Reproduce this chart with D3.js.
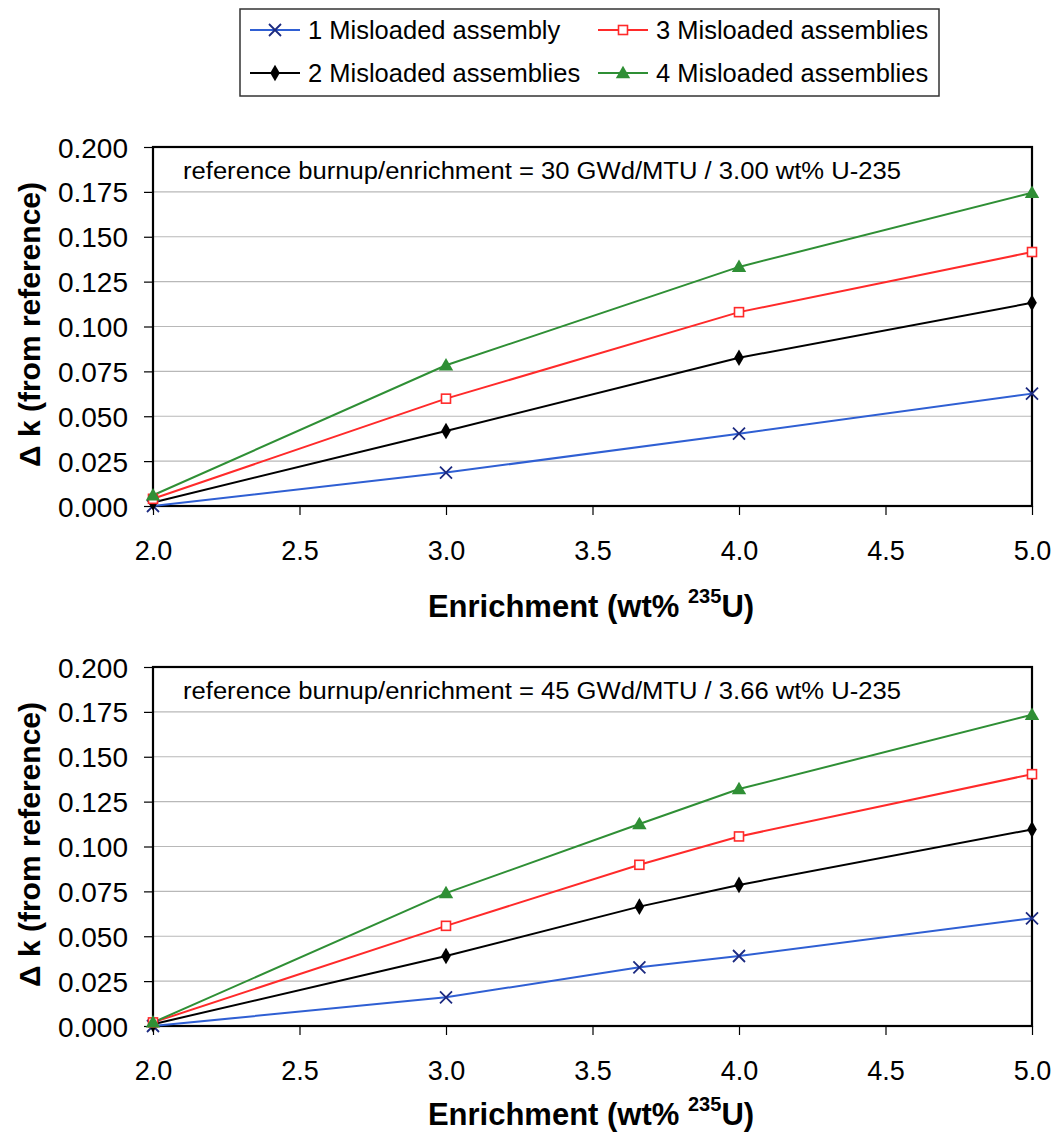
<!DOCTYPE html>
<html><head><meta charset="utf-8">
<script src="https://cdn.jsdelivr.net/npm/d3@7"></script>
<style>body{margin:0;background:#fff}svg{display:block}</style>
</head><body>
<svg id="c" width="1052" height="1140"></svg>
<script>
const seriesNames = ["1 Misloaded assembly","2 Misloaded assemblies","3 Misloaded assemblies","4 Misloaded assemblies"];
const xTicks = [2.0,2.5,3.0,3.5,4.0,4.5,5.0];
const yTicks = [0,0.025,0.05,0.075,0.1,0.125,0.15,0.175,0.2];

// Top panel
const topX = [2.0,3.0,4.0,5.0];
const top1 = [0.000,0.0186,0.0403,0.0626];
const top2 = [0.002,0.0418,0.0826,0.1132];
const top3 = [0.004,0.0598,0.1080,0.1415];
const top4 = [0.006,0.0784,0.1332,0.1745];
const topNote = "reference burnup/enrichment = 30 GWd/MTU / 3.00 wt% U-235";

// Bottom panel
const botX = [2.0,3.0,3.66,4.0,5.0];
const bot1 = [0.000,0.016,0.0327,0.039,0.0600];
const bot2 = [0.001,0.039,0.0665,0.0786,0.1095];
const bot3 = [0.002,0.0558,0.0898,0.1056,0.1403];
const bot4 = [0.002,0.074,0.1125,0.1320,0.1734];
const botNote = "reference burnup/enrichment = 45 GWd/MTU / 3.66 wt% U-235";

const styles = [
  {line:"#2f5fd3", mark:"#1c2a80", sym:"x"},
  {line:"#000000", mark:"#000000", sym:"diamond"},
  {line:"#ff2a2a", mark:"#ff2a2a", sym:"square"},
  {line:"#2f8f35", mark:"#2f8f35", sym:"triangle"}
];
const FONT = "'Liberation Sans', Arial, sans-serif";
const svg = d3.select("#c");

function drawMarker(g, sym, color, x, y) {
  if (sym === "x") {
    const s = 6;
    g.append("path").attr("d", `M${x-s},${y-s}L${x+s},${y+s}M${x-s},${y+s}L${x+s},${y-s}`)
      .attr("stroke", color).attr("stroke-width", 1.8).attr("fill","none");
  } else if (sym === "diamond") {
    g.append("path").attr("d", d3.symbol(d3.symbolDiamond, 80)()).attr("transform", `translate(${x},${y})`)
      .attr("fill", color);
  } else if (sym === "square") {
    g.append("rect").attr("x", x-4.5).attr("y", y-4.5).attr("width", 9).attr("height", 9)
      .attr("fill", "#fff").attr("stroke", color).attr("stroke-width", 1.6);
  } else {
    g.append("path").attr("d", d3.symbol(d3.symbolTriangle, 90)()).attr("transform", `translate(${x},${y+1})`)
      .attr("fill", color);
  }
}

function panel(box, xs, data, note, titleOffset) {
  const x = d3.scaleLinear().domain([2,5]).range([box.l, box.r]);
  const y = d3.scaleLinear().domain([0,0.2]).range([box.b, box.t]);
  const g = svg.append("g");
  // gridlines
  g.append("g").selectAll("line").data(yTicks.slice(1, -1)).join("line")
    .attr("x1", box.l).attr("x2", box.r).attr("y1", d=>y(d)).attr("y2", d=>y(d))
    .attr("stroke", "#b8b8b8").attr("stroke-width", 1.2);
  // axes
  const ya = d3.axisLeft(y).tickValues(yTicks).tickFormat(d3.format(".3f")).tickSize(9).tickPadding(16);
  const yg = g.append("g").attr("transform", `translate(${box.l},0)`).call(ya);
  const xa = d3.axisBottom(x).tickValues(xTicks).tickFormat(d3.format(".1f")).tickSize(9).tickPadding(12);
  const xg = g.append("g").attr("transform", `translate(0,${box.b})`).call(xa);
  [yg, xg].forEach(a => {
    a.select(".domain").remove();
    a.selectAll("line").attr("stroke", "#000").attr("stroke-width", 1.2);
    a.selectAll("text").attr("font-family", FONT).attr("fill", "#000");
  });
  yg.selectAll("text").attr("font-size", 28).attr("dy", "0.36em");
  xg.selectAll("text").attr("font-size", 27).attr("y", 54).attr("dy", 0);
  // frame
  g.append("rect").attr("x", box.l).attr("y", box.t).attr("width", box.r-box.l).attr("height", box.b-box.t)
    .attr("fill", "none").attr("stroke", "#000").attr("stroke-width", 2.2);
  // note
  g.append("text").attr("x", box.l + 30).attr("y", box.t + 32).attr("font-family", FONT)
    .attr("font-size", 23).attr("textLength", 718).attr("lengthAdjust", "spacingAndGlyphs").text(note);
  // series
  const line = d3.line().x(d=>x(d[0])).y(d=>y(d[1]));
  data.forEach((vals, i) => {
    const pts = xs.map((v, j) => [v, vals[j]]);
    g.append("path").datum(pts).attr("d", line).attr("fill", "none")
      .attr("stroke", styles[i].line).attr("stroke-width", 2);
  });
  data.forEach((vals, i) => {
    xs.forEach((v, j) => drawMarker(g, styles[i].sym, styles[i].mark, x(v), y(vals[j])));
  });
  // axis titles
  const ty = g.append("text").attr("x", 591).attr("y", box.b + titleOffset).attr("text-anchor", "middle")
    .attr("font-family", FONT).attr("font-size", 31).attr("font-weight", "bold");
  ty.append("tspan").text("Enrichment (wt%  ");
  ty.append("tspan").attr("font-size", 20).attr("dy", -14).text("235");
  ty.append("tspan").attr("dy", 14).text("U)");
  g.append("text").attr("transform", `translate(40,${(box.t+box.b)/2 - 2}) rotate(-90)`)
    .attr("text-anchor", "middle").attr("font-family", FONT).attr("font-size", 30).attr("font-weight", "bold")
    .text("Δ k (from reference)");
}

panel({l:153, r:1032, t:147, b:506}, topX, [top1, top2, top3, top4], topNote, 111);
panel({l:153, r:1032, t:667, b:1026}, botX, [bot1, bot2, bot3, bot4], botNote, 99);

// legend
const lg = svg.append("g");
lg.append("rect").attr("x", 240).attr("y", 9).attr("width", 699).attr("height", 87)
  .attr("fill", "#fff").attr("stroke", "#333").attr("stroke-width", 1.5);
const legendPos = [[250,30],[250,73],[598,30],[598,73]];
seriesNames.forEach((name, i) => {
  const [lx, ly] = legendPos[i];
  lg.append("line").attr("x1", lx).attr("x2", lx+50).attr("y1", ly).attr("y2", ly)
    .attr("stroke", styles[i].line).attr("stroke-width", 2);
  drawMarker(lg, styles[i].sym, styles[i].mark, lx+25, ly);
  lg.append("text").attr("x", lx+58).attr("y", ly+9).attr("font-family", FONT).attr("font-size", 25.5)
    .text(name);
});
</script>
</body></html>
